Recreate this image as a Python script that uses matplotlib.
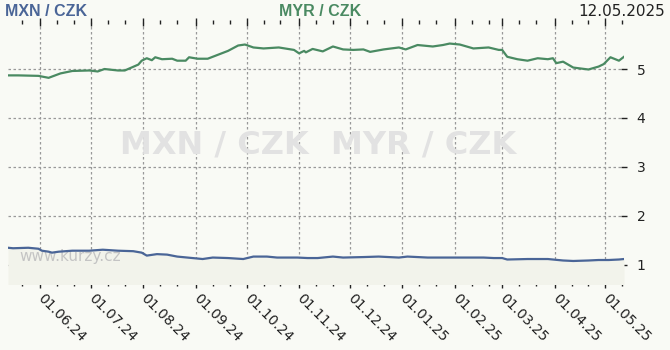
import numpy as np
import pandas as pd
import matplotlib
matplotlib.use("Agg")
from matplotlib import pyplot as plt
import matplotlib.dates as mdates

# MYR / CZK
myr_dates = ['2024-05-13', '2024-05-19', '2024-05-31', '2024-06-06', '2024-06-13', '2024-06-20',
             '2024-06-30', '2024-07-05', '2024-07-09', '2024-07-17', '2024-07-21', '2024-07-25',
             '2024-07-29', '2024-07-31', '2024-08-03', '2024-08-06', '2024-08-08', '2024-08-12',
             '2024-08-18', '2024-08-21', '2024-08-26', '2024-08-28', '2024-09-02', '2024-09-08',
             '2024-09-14', '2024-09-20', '2024-09-26', '2024-09-30', '2024-10-05', '2024-10-11',
             '2024-10-20', '2024-10-29', '2024-11-01', '2024-11-04', '2024-11-05', '2024-11-09',
             '2024-11-15', '2024-11-21', '2024-11-27', '2024-12-03', '2024-12-09', '2024-12-13',
             '2024-12-21', '2024-12-30', '2025-01-03', '2025-01-10', '2025-01-19', '2025-01-25',
             '2025-01-29', '2025-02-04', '2025-02-12', '2025-02-21', '2025-02-27', '2025-03-01',
             '2025-03-04', '2025-03-10', '2025-03-16', '2025-03-22', '2025-03-28', '2025-03-31',
             '2025-04-02', '2025-04-06', '2025-04-12', '2025-04-21', '2025-04-27', '2025-04-30',
             '2025-05-04', '2025-05-09', '2025-05-12']
myr_vals = [4.87, 4.87, 4.86, 4.82, 4.91, 4.96,
            4.97, 4.95, 5.00, 4.97, 4.97, 5.03,
            5.09, 5.17, 5.22, 5.18, 5.24, 5.20,
            5.21, 5.17, 5.17, 5.24, 5.21, 5.21,
            5.29, 5.37, 5.48, 5.50, 5.44, 5.42,
            5.44, 5.39, 5.32, 5.37, 5.34, 5.41,
            5.36, 5.46, 5.40, 5.39, 5.40, 5.35,
            5.40, 5.44, 5.40, 5.49, 5.46, 5.49,
            5.52, 5.50, 5.42, 5.44, 5.39, 5.39,
            5.25, 5.20, 5.17, 5.22, 5.20, 5.22,
            5.12, 5.15, 5.03, 4.99, 5.05, 5.10,
            5.24, 5.17, 5.25]

# MXN / CZK
mxn_dates = ['2024-05-13', '2024-05-16', '2024-05-25', '2024-05-31', '2024-06-02', '2024-06-06',
             '2024-06-08', '2024-06-12', '2024-06-20', '2024-06-30', '2024-07-08', '2024-07-17',
             '2024-07-26', '2024-07-31', '2024-08-03', '2024-08-09', '2024-08-15', '2024-08-21',
             '2024-08-30', '2024-09-05', '2024-09-11', '2024-09-20', '2024-09-29', '2024-10-05',
             '2024-10-13', '2024-10-19', '2024-10-31', '2024-11-06', '2024-11-12', '2024-11-21',
             '2024-11-27', '2024-12-09', '2024-12-18', '2024-12-30', '2025-01-04', '2025-01-16',
             '2025-01-25', '2025-02-03', '2025-02-18', '2025-02-24', '2025-03-01', '2025-03-04',
             '2025-03-16', '2025-03-28', '2025-04-06', '2025-04-12', '2025-04-21', '2025-04-27',
             '2025-05-03', '2025-05-09', '2025-05-12']
mxn_vals = [1.35, 1.34, 1.35, 1.33, 1.29, 1.27,
            1.25, 1.27, 1.29, 1.29, 1.31, 1.29,
            1.28, 1.25, 1.19, 1.22, 1.21, 1.17,
            1.14, 1.12, 1.15, 1.14, 1.12, 1.17,
            1.17, 1.15, 1.15, 1.14, 1.14, 1.17,
            1.15, 1.16, 1.17, 1.15, 1.17, 1.15,
            1.15, 1.15, 1.15, 1.14, 1.14, 1.11,
            1.12, 1.12, 1.09, 1.08, 1.09, 1.10,
            1.10, 1.11, 1.12]

yticks = [1, 2, 3, 4, 5]

bg = '#f9faf5'
blue = '#4a6597'
green = '#4a8a62'

myr_x = pd.to_datetime(myr_dates)
mxn_x = pd.to_datetime(mxn_dates)

fig = plt.figure(figsize=(6.7, 3.5), dpi=100, facecolor=bg)
ax = fig.add_axes([8 / 670, 66 / 350, 616 / 670, 262 / 350], facecolor=bg)

ax.fill_between(mxn_x, mxn_vals, 0, color='#f2f3eb', zorder=1, linewidth=0)
ax.plot(myr_x, myr_vals, color=green, lw=1.6, zorder=4)
ax.plot(mxn_x, mxn_vals, color=blue, lw=1.6, zorder=4)

ax.set_xlim(pd.Timestamp('2024-05-13'), pd.Timestamp('2025-05-12'))
ax.set_ylim(0.61, 5.96)

for s in ax.spines.values():
    s.set_visible(False)

ax.xaxis.set_major_locator(mdates.MonthLocator(bymonthday=1))
ax.xaxis.set_minor_locator(mdates.DayLocator(bymonthday=[11, 21]))
ax.xaxis.set_major_formatter(mdates.DateFormatter('%d.%m.%y'))
ax.tick_params(axis='x', which='major', direction='inout', length=6, width=1, color='#222',
               top=True, labelsize=10, pad=6)
ax.tick_params(axis='x', which='minor', direction='inout', length=3, width=1, color='#222', top=True)
for lab in ax.get_xticklabels():
    lab.set_rotation(-45)
    lab.set_ha('left')
    lab.set_va('center')
    lab.set_rotation_mode('anchor')
    lab.set_color('#222')

ax.yaxis.tick_right()
ax.set_yticks(yticks)
ax.tick_params(axis='y', direction='inout', length=4, width=1, color='#222', labelsize=10,
               pad=7, labelcolor='#222')

ax.grid(True, which='major', color='#999999', linestyle=(0, (2, 2)), linewidth=0.9, zorder=2)
ax.set_axisbelow(True)

ax.text(0.503, 0.53, 'MXN / CZK  MYR / CZK', transform=ax.transAxes, ha='center', va='center',
        fontsize=23, fontweight='bold', color='#e2e2e2', zorder=3)
ax.text(0.018, 0.105, 'www.kurzy.cz', transform=ax.transAxes, ha='left', va='center',
        fontsize=11, color='#c4c4c4', zorder=3)

fig.text(5 / 670, 339 / 350, 'MXN / CZK', ha='left', va='center', fontsize=11.5,
         fontweight='bold', color=blue, family='Liberation Sans')
fig.text(320 / 670, 339 / 350, 'MYR / CZK', ha='center', va='center', fontsize=11.5,
         fontweight='bold', color=green, family='Liberation Sans')
fig.text(665 / 670, 339 / 350, '12.05.2025', ha='right', va='center', fontsize=11, color='#222')

plt.savefig('out.png', dpi=100, facecolor=bg)
